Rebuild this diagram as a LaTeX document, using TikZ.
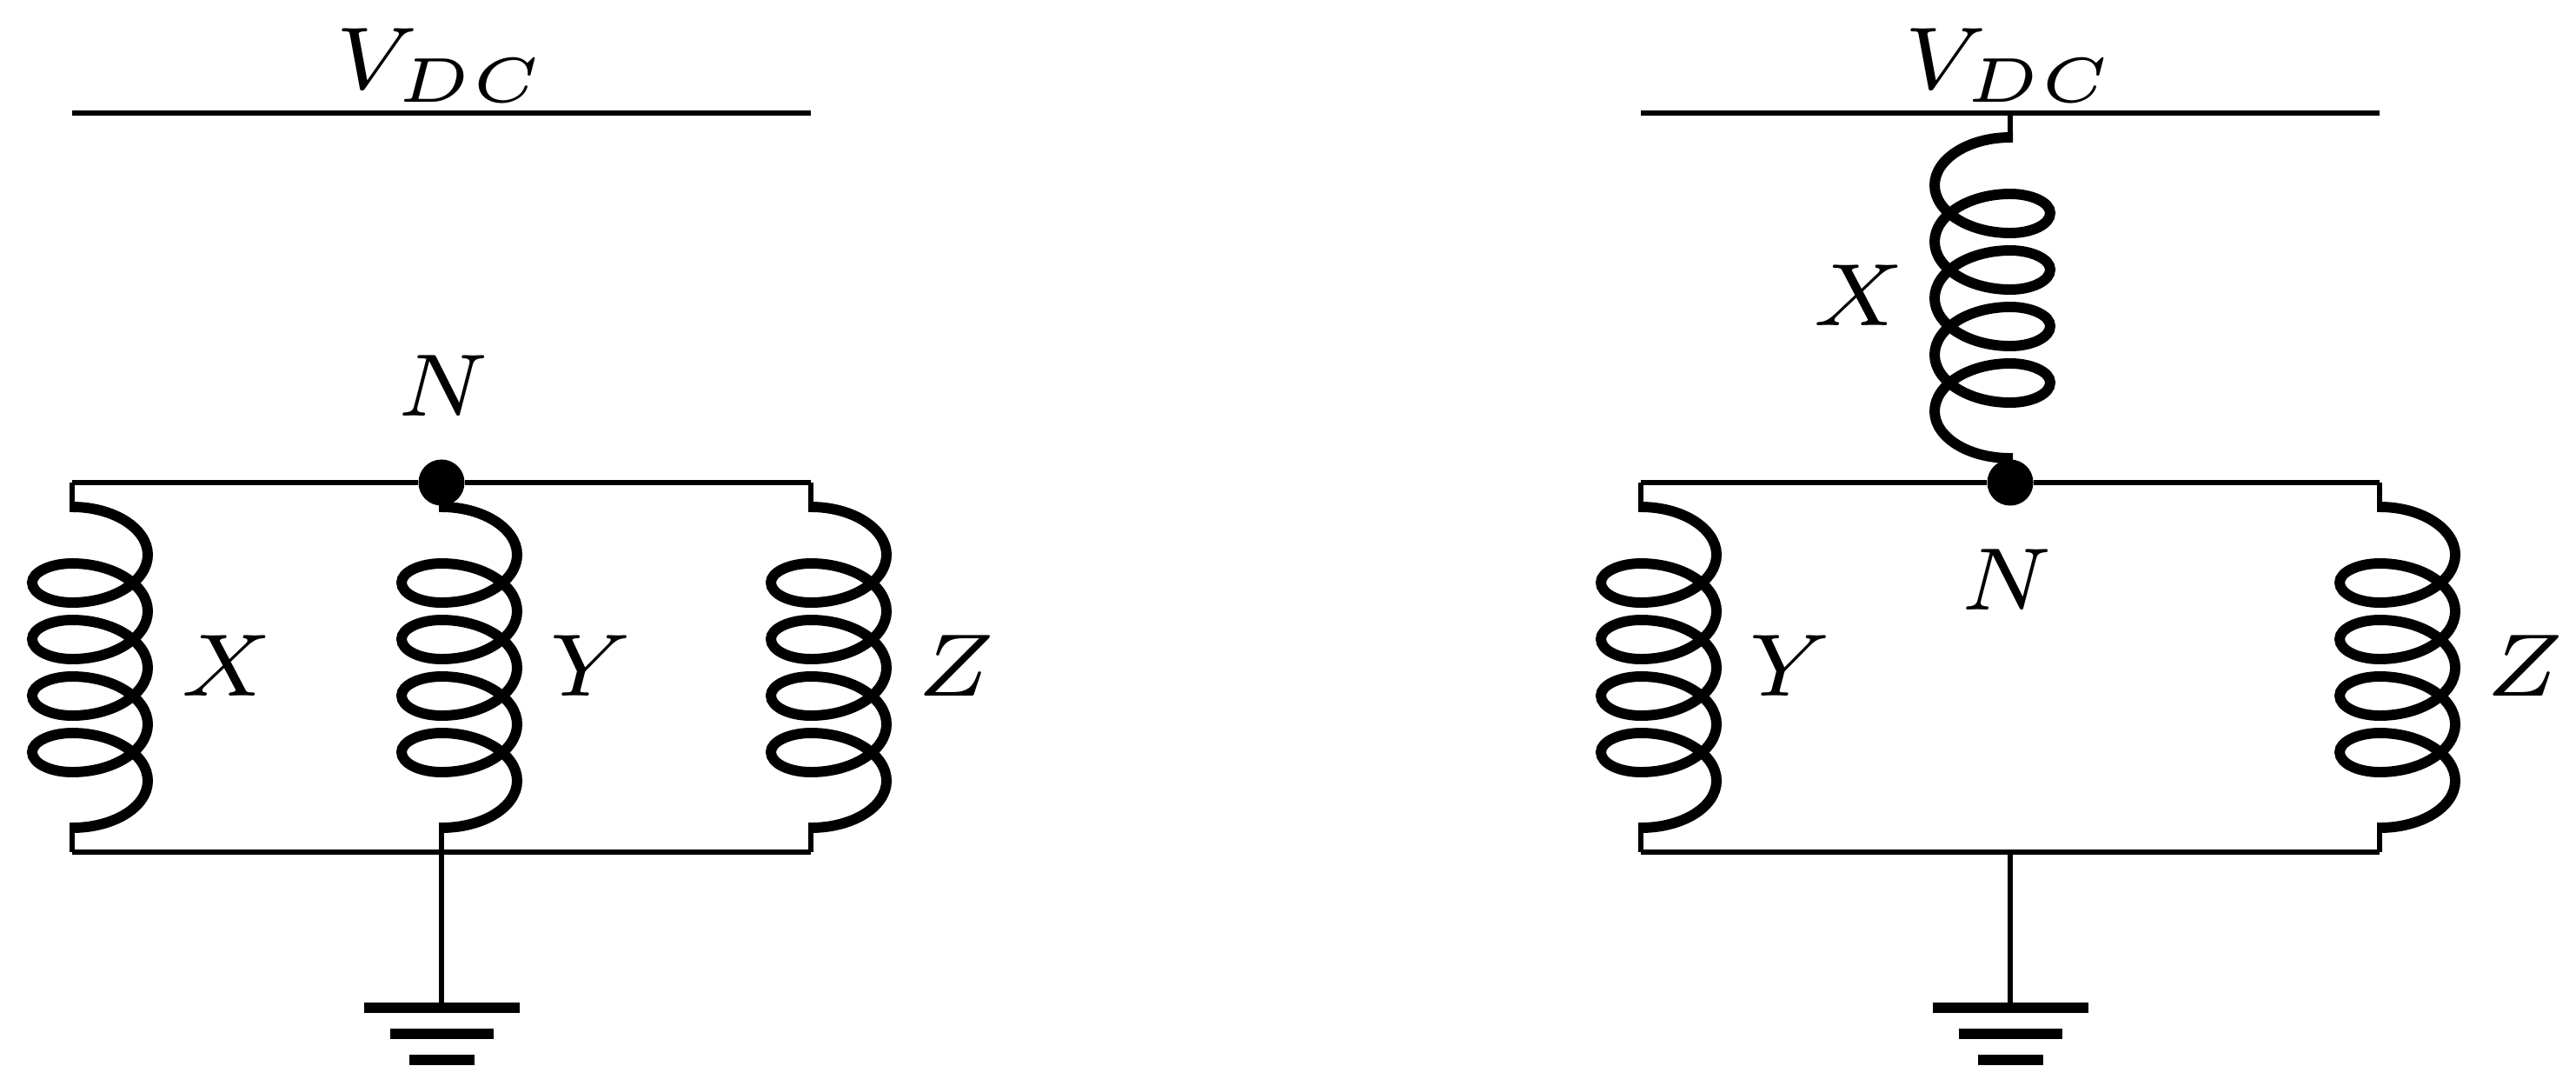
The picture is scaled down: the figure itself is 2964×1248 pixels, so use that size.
\documentclass[tikz,border=0pt]{standalone}
\tikzset{
  wire/.style={line width=1.65pt},
  coilline/.style={line width=3.4pt},
  gndbar/.style={line width=3.4pt},
  lbl/.style={inner sep=0pt,xscale=4.28,yscale=4.14,font=\scriptsize},
  dotnode/.style={circle,fill=black,inner sep=0pt,minimum size=0.53cm},
  coil/.pic={
    \coordinate (-top) at (0,0);
    \coordinate (-bot) at (0,369);
    \draw[coilline] (-3,0) -- (0,0)
      .. controls +(48,0) and +(0,-30) .. ++(87,55)
      .. controls +(0,30) and +(48,0) .. ++(-87,55)
      .. controls +(-25,0) and +(0,13) .. ++(-46,-23)
      .. controls +(0,-12) and +(-25,0) .. ++(46,-22)
      .. controls +(48,0) and +(0,-30) .. ++(87,55)
      .. controls +(0,30) and +(48,0) .. ++(-87,55)
      .. controls +(-25,0) and +(0,13) .. ++(-46,-23)
      .. controls +(0,-12) and +(-25,0) .. ++(46,-22)
      .. controls +(48,0) and +(0,-30) .. ++(87,55)
      .. controls +(0,30) and +(48,0) .. ++(-87,55)
      .. controls +(-25,0) and +(0,13) .. ++(-46,-23)
      .. controls +(0,-12) and +(-25,0) .. ++(46,-22)
      .. controls +(48,0) and +(0,-30) .. ++(87,55)
      .. controls +(0,30) and +(48,0) .. ++(-87,55)
      .. controls +(-25,0) and +(0,13) .. ++(-46,-23)
      .. controls +(0,-12) and +(-25,0) .. ++(46,-22)
      .. controls +(48,0) and +(0,-30) .. ++(87,55)
      .. controls +(0,30) and +(48,0) .. ++(-87,54)
      -- ++(-3,0);
  },
  gnd/.pic={
    \coordinate (-in) at (0,0);
    \draw[gndbar] (-89.5,6) -- (89.5,6);
    \draw[gndbar] (-59.5,36) -- (59.5,36);
    \draw[gndbar] (-37.5,66) -- (37.5,66);
  }
}
\begin{document}
\begin{tikzpicture}[x=0.01cm,y=-0.01cm]
\useasboundingbox (0,0) rectangle (2964,1248);
% left circuit
\coordinate (aVl) at (83,130); \coordinate (aVr) at (933,130);
\coordinate (aTl) at (83,555); \coordinate (aTr) at (933,555);
\coordinate (aBl) at (83,980); \coordinate (aBm) at (508,980); \coordinate (aBr) at (933,980);
\node[dotnode] (aN) at (508,555) {};
\pic (aX) at (83,583) {coil};
\pic (aY) at (508,583) {coil};
\pic (aZ) at (933,583) {coil};
\pic (aG) at (508,1153) {gnd};
\draw[wire] (aVl) -- (aVr);
\draw[wire] (aTl) -- (aN) -- (aTr);
\draw[wire] (aBl) -- (aBr);
\draw[wire] (aTl) -- (aX-top);
\draw[wire] (aN) -- (aY-top);
\draw[wire] (aTr) -- (aZ-top);
\draw[wire] (aX-bot) -- (aBl);
\draw[wire] (aY-bot) -- (aBm);
\draw[wire] (aZ-bot) -- (aBr);
\draw[wire] (aBm) -- (aG-in);
\node[lbl] (aVt) at (508,75) {$V_{DC}$};
\node[lbl] (aNt) at (510,444) {$N$};
\node[lbl] (aXt) at (261,766) {$X$};
\node[lbl] (aYt) at (680,766) {$Y$};
\node[lbl] (aZt) at (1100,766) {$Z$};
% right circuit
\coordinate (bVl) at (1888,130); \coordinate (bVm) at (2313,130); \coordinate (bVr) at (2738,130);
\coordinate (bTl) at (1888,555); \coordinate (bTr) at (2738,555);
\coordinate (bBl) at (1888,980); \coordinate (bBm) at (2313,980); \coordinate (bBr) at (2738,980);
\node[dotnode] (bN) at (2313,555) {};
\pic[xscale=-1] (bX) at (2313,158) {coil};
\pic (bY) at (1888,583) {coil};
\pic (bZ) at (2738,583) {coil};
\pic (bG) at (2313,1153) {gnd};
\draw[wire] (bVl) -- (bVr);
\draw[wire] (bTl) -- (bN) -- (bTr);
\draw[wire] (bBl) -- (bBr);
\draw[wire] (bVm) -- (bX-top);
\draw[wire] (bX-bot) -- (bN);
\draw[wire] (bTl) -- (bY-top);
\draw[wire] (bTr) -- (bZ-top);
\draw[wire] (bY-bot) -- (bBl);
\draw[wire] (bZ-bot) -- (bBr);
\draw[wire] (bBm) -- (bG-in);
\node[lbl] (bVt) at (2313,75) {$V_{DC}$};
\node[lbl] (bNt) at (2309,667) {$N$};
\node[lbl] (bXt) at (2139,340) {$X$};
\node[lbl] (bYt) at (2060,766) {$Y$};
\node[lbl] (bZt) at (2905,766) {$Z$};
\end{tikzpicture}
\end{document}
